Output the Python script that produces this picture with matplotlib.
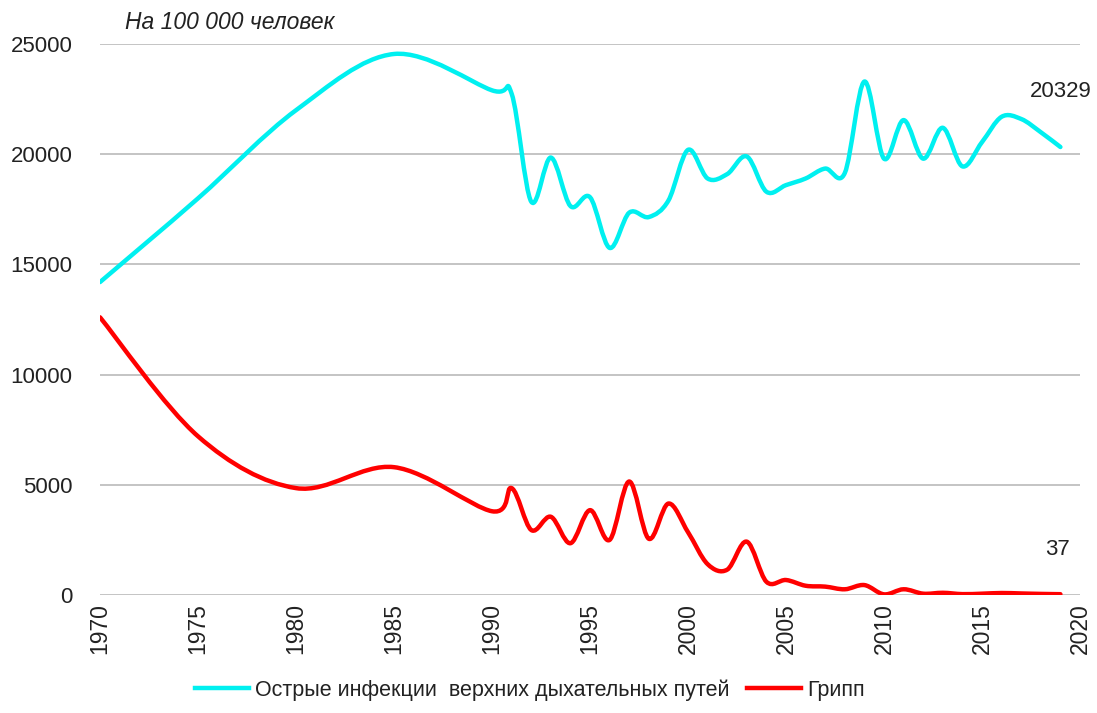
import matplotlib
matplotlib.use("Agg")
import matplotlib.pyplot as plt
from matplotlib.path import Path
from matplotlib.patches import PathPatch

# years: sparse up to 1990, then yearly
years = [1970, 1975, 1980, 1985, 1990] + list(range(1991, 2020))

# Острые инфекции верхних дыхательных путей, на 100 000 человек
ari = [14200, 18000, 22000, 24550, 22900,
       22750, 17850, 19850, 17650, 18050, 15750, 17350, 17150, 17900, 20200,
       18900, 19100, 19900, 18300, 18600, 18900, 19350, 19150, 23300, 19800,
       21550, 19800, 21200, 19450, 20550, 21700, 21600, 21000, 20329]

# Грипп
flu = [12600, 7200, 4850, 5800, 3800,
       4850, 2950, 3550, 2350, 3850, 2500, 5150, 2550, 4150, 2850,
       1400, 1150, 2420, 600, 680, 420, 380, 260, 450, 30,
       260, 60, 100, 40, 60, 90, 70, 50, 37]

ari_label = "Острые инфекции  верхних дыхательных путей"
flu_label = "Грипп"
ari_color = "#00f0f0"
flu_color = "#ff0000"


def smooth_path(x, y):
    # excel-like smoothed line: catmull-rom turned into cubic bezier segments
    verts = [(x[0], y[0])]
    codes = [Path.MOVETO]
    n = len(x)
    for i in range(n - 1):
        xa, ya = (x[i - 1], y[i - 1]) if i > 0 else (x[i], y[i])
        xb, yb = (x[i + 2], y[i + 2]) if i + 2 < n else (x[i + 1], y[i + 1])
        c1 = (x[i] + (x[i + 1] - xa) / 6, y[i] + (y[i + 1] - ya) / 6)
        c2 = (x[i + 1] - (xb - x[i]) / 6, y[i + 1] - (yb - y[i]) / 6)
        verts += [c1, c2, (x[i + 1], y[i + 1])]
        codes += [Path.CURVE4] * 3
    return Path(verts, codes)


plt.rcParams['font.family'] = ['Liberation Sans', 'DejaVu Sans']
txt_color = '#222222'

fig = plt.figure(figsize=(10.97, 7.13), dpi=100)
ax = fig.add_axes([0.0912, 0.1655, 0.8933, 0.7727])

for yy, col in [(ari, ari_color), (flu, flu_color)]:
    patch = PathPatch(smooth_path(years, yy), facecolor='none', edgecolor=col,
                      lw=3.2, capstyle='round', joinstyle='round', zorder=3)
    ax.add_patch(patch)
    ax.plot([], [], color=col, lw=3.2)

ax.set_xlim(1970, 2020)
ax.set_ylim(0, 25000)
ax.set_xticks(range(1970, 2021, 5))
ax.set_yticks(range(0, 25001, 5000))
ax.tick_params(axis='x', rotation=90, length=0, pad=6, labelsize=16.5)
ax.tick_params(axis='y', length=0, pad=20, labelsize=16)
for lbl in ax.get_xticklabels() + ax.get_yticklabels():
    lbl.set_color(txt_color)

ax.grid(axis='y', color='#c4c4c4', lw=1.4)
ax.set_axisbelow(True)
for s in ax.spines.values():
    s.set_visible(False)

# title in the corner
fig.text(0.114, 0.968, "На 100 000 человек", fontsize=16.5, style='italic',
         color=txt_color, va='center', ha='left')

# last values
ax.annotate(str(ari[-1]), (years[-1], ari[-1]), xytext=(0, 40),
            textcoords='offset points', fontsize=16, color=txt_color,
            ha='center', va='center')
ax.annotate(str(flu[-1]), (years[-1], flu[-1]), xytext=(-2, 32),
            textcoords='offset points', fontsize=16, color=txt_color,
            ha='center', va='center')

handles = ax.get_lines()
leg = fig.legend(handles, [ari_label, flu_label], loc='center',
                 bbox_to_anchor=(0.483, 0.032), ncol=2, frameon=False,
                 handlelength=2.5, handletextpad=0.3, columnspacing=0.8,
                 prop={'family': ['Liberation Sans Narrow', 'Liberation Sans'],
                       'size': 15.5})
for t in leg.get_texts():
    t.set_color(txt_color)

fig.savefig("out.png", dpi=100)
